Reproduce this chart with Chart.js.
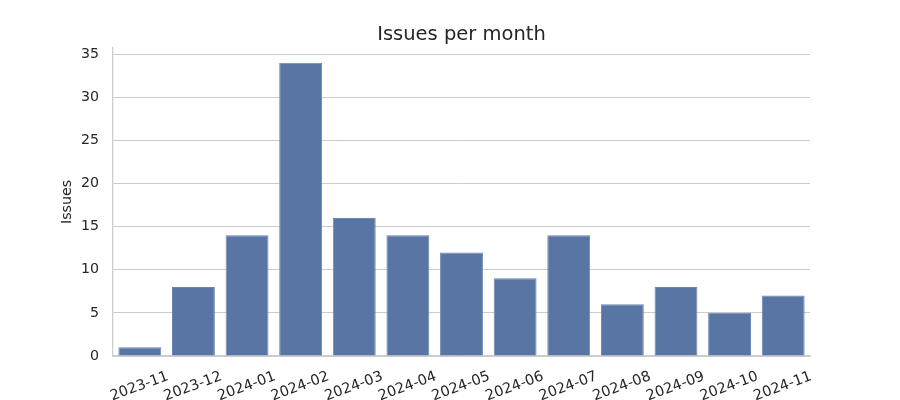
<!DOCTYPE html>
<html>
<head>
<meta charset="utf-8">
<script src="https://cdn.jsdelivr.net/npm/chart.js@4/dist/chart.umd.min.js"></script>
<style>
  html, body { margin: 0; padding: 0; background: #ffffff; }
  #wrap { width: 900px; height: 400px; }
</style>
</head>
<body>
<div id="wrap"><canvas id="c" width="900" height="400"></canvas></div>
<script>
const months = ["2023-11","2023-12","2024-01","2024-02","2024-03","2024-04","2024-05","2024-06","2024-07","2024-08","2024-09","2024-10","2024-11"];
const issues = [1, 8, 14, 34, 16, 14, 12, 9, 14, 6, 8, 5, 7];
const yTicks = [0, 5, 10, 15, 20, 25, 30, 35];
const yMax = 35.7;
const chartTitle = 'Issues per month';

const textColor = '#262626';
const font = 'DejaVu Sans';

const titlePlugin = {
  id: 'plotTitle',
  afterDraw(chart) {
    const { ctx, chartArea } = chart;
    ctx.save();
    ctx.fillStyle = textColor;
    ctx.font = '19.5px "DejaVu Sans"';
    ctx.textAlign = 'center';
    ctx.textBaseline = 'alphabetic';
    ctx.fillText(chartTitle, (chartArea.left + chartArea.right) / 2, 40);
    ctx.restore();
  }
};

new Chart(document.getElementById('c'), {
  type: 'bar',
  data: {
    labels: months,
    datasets: [{
      label: 'Issues',
      data: issues,
      backgroundColor: '#5875a4',
      borderColor: '#6b86b2',
      borderWidth: 1,
      categoryPercentage: 0.8,
      barPercentage: 1.0
    }]
  },
  plugins: [titlePlugin],
  options: {
    responsive: false,
    animation: false,
    devicePixelRatio: 1,
    layout: { padding: { top: 48, right: 90, bottom: 0, left: 0 } },
    plugins: {
      legend: { display: false },
      tooltip: { enabled: false },
      title: { display: false }
    },
    scales: {
      x: {
        grid: { display: false, drawTicks: false },
        border: { display: true, color: '#cccccc', width: 1.25 },
        ticks: {
          color: textColor,
          font: { family: font, size: 14.5 },
          minRotation: 20,
          maxRotation: 20,
          autoSkip: false,
          labelOffset: 28,
          padding: 12
        },
        afterFit: s => { s.height = 44; }
      },
      y: {
        min: 0,
        max: yMax,
        grid: { color: '#cccccc', lineWidth: 1, drawTicks: false },
        border: { display: true, color: '#cccccc', width: 1.25 },
        afterBuildTicks: s => { s.ticks = yTicks.map(v => ({ value: v })); },
        ticks: {
          color: textColor,
          font: { family: font, size: 14.2 },
          padding: 14
        },
        title: {
          display: true,
          text: 'Issues',
          color: textColor,
          font: { family: font, size: 14.2 },
          padding: { top: 59, bottom: 0 }
        },
        afterFit: s => { s.width = 113; }
      }
    }
  }
});
</script>
</body>
</html>
